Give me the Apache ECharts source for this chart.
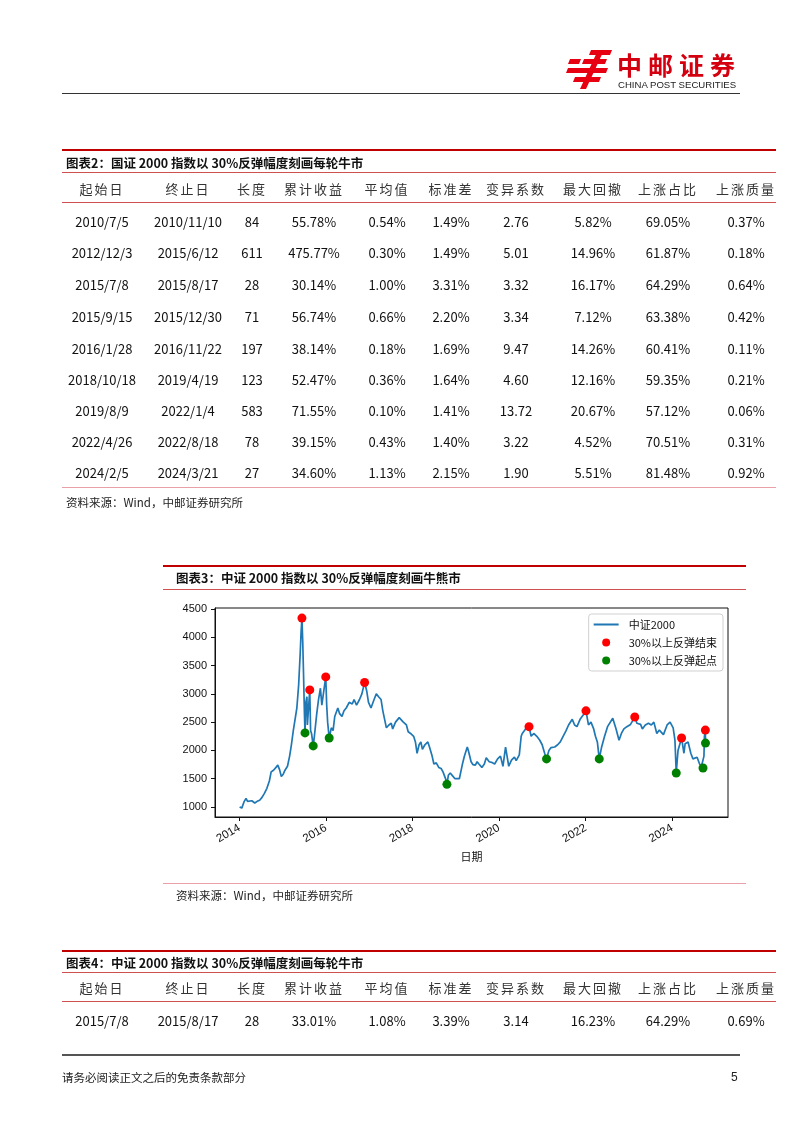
<!DOCTYPE html>
<html><head><meta charset="utf-8">
<script src="https://cdn.jsdelivr.net/npm/echarts@6/dist/echarts.min.js"></script>
<style>
html,body{margin:0;padding:0}
body{width:802px;height:1133px;position:relative;background:#fff;font-family:"Noto Sans CJK SC",sans-serif;overflow:hidden;color:#111}
#chart{position:absolute;left:0;top:0;width:802px;height:1133px}
.t{position:absolute;white-space:nowrap;line-height:1}
.c{position:absolute;white-space:nowrap;line-height:1;transform:translate(-50%,-50%);font-size:13px}
.ln{position:absolute}
</style></head><body>
<div id="chart"></div>
<div id="ov"></div>
<script>
// ---------- data ----------
const tableHeader = ['起始日','终止日','长度','累计收益','平均值','标准差','变异系数','最大回撤','上涨占比','上涨质量'];
const table2Start = ['2010/7/5','2012/12/3','2015/7/8','2015/9/15','2016/1/28','2018/10/18','2019/8/9','2022/4/26','2024/2/5'];
const table2End = ['2010/11/10','2015/6/12','2015/8/17','2015/12/30','2016/11/22','2019/4/19','2022/1/4','2022/8/18','2024/3/21'];
const table2Len = ['84','611','28','71','197','123','583','78','27'];
const table2Cum = ['55.78%','475.77%','30.14%','56.74%','38.14%','52.47%','71.55%','39.15%','34.60%'];
const table2Mean = ['0.54%','0.30%','1.00%','0.66%','0.18%','0.36%','0.10%','0.43%','1.13%'];
const table2Std = ['1.49%','1.49%','3.31%','2.20%','1.69%','1.64%','1.41%','1.40%','2.15%'];
const table2CV = ['2.76','5.01','3.32','3.34','9.47','4.60','13.72','3.22','1.90'];
const table2DD = ['5.82%','14.96%','16.17%','7.12%','14.26%','12.16%','20.67%','4.52%','5.51%'];
const table2Up = ['69.05%','61.87%','64.29%','63.38%','60.41%','59.35%','57.12%','70.51%','81.48%'];
const table2Q = ['0.37%','0.18%','0.64%','0.42%','0.11%','0.21%','0.06%','0.31%','0.92%'];
const table4Row = ['2015/7/8','2015/8/17','28','33.01%','1.08%','3.39%','3.14','16.23%','64.29%','0.69%'];

const xTickYears = [2014,2016,2018,2020,2022,2024];
const yTicks = [1000,1500,2000,2500,3000,3500,4000,4500];

const indexDates = [
'2014-01-02','2014-01-20','2014-02-10','2014-02-25','2014-03-10','2014-03-25','2014-04-15','2014-05-10','2014-05-30','2014-06-20',
'2014-07-10','2014-07-30','2014-08-20','2014-09-10','2014-09-25','2014-10-15','2014-11-05','2014-11-20','2014-12-05','2014-12-20',
'2015-01-05','2015-01-20','2015-02-10','2015-02-28','2015-03-15','2015-03-31','2015-04-15','2015-04-30','2015-05-15','2015-05-28',
'2015-06-05','2015-06-12','2015-06-19','2015-06-26','2015-07-03','2015-07-08','2015-07-15','2015-07-24','2015-07-28','2015-08-05',
'2015-08-17','2015-08-24','2015-09-01','2015-09-15','2015-09-25','2015-10-15','2015-10-30','2015-11-15','2015-11-27','2015-12-10',
'2015-12-30','2016-01-07','2016-01-15','2016-01-28','2016-02-15','2016-03-01','2016-03-15','2016-04-10','2016-04-25','2016-05-15',
'2016-06-01','2016-06-20','2016-07-15','2016-08-10','2016-08-25','2016-09-15','2016-10-10','2016-10-30','2016-11-22','2016-12-10',
'2016-12-25','2017-01-15','2017-02-10','2017-03-01','2017-03-20','2017-04-10','2017-04-25','2017-05-10','2017-05-25','2017-06-15',
'2017-07-05','2017-07-17','2017-08-10','2017-09-10','2017-09-25','2017-10-15','2017-11-10','2017-11-25','2017-12-15','2018-01-10',
'2018-01-25','2018-02-08','2018-02-25','2018-03-12','2018-03-25','2018-04-15','2018-05-10','2018-05-25','2018-06-15','2018-06-30',
'2018-07-20','2018-08-10','2018-08-30','2018-09-15','2018-09-28','2018-10-10','2018-10-18','2018-10-30','2018-11-15','2018-12-05',
'2018-12-25','2019-01-10','2019-01-31','2019-02-25','2019-03-15','2019-04-08','2019-04-19','2019-05-10','2019-05-25','2019-06-15',
'2019-06-30','2019-07-15','2019-08-09','2019-08-30','2019-09-15','2019-10-10','2019-10-30','2019-11-25','2019-12-20','2020-01-13',
'2020-02-03','2020-02-25','2020-03-23','2020-04-15','2020-05-10','2020-05-25','2020-06-20','2020-07-06','2020-07-15','2020-07-31',
'2020-08-20','2020-09-10','2020-09-28','2020-10-20','2020-11-15','2020-12-10','2020-12-30','2021-01-20','2021-02-05','2021-02-25',
'2021-03-15','2021-04-15','2021-05-10','2021-06-01','2021-06-25','2021-07-20','2021-08-10','2021-09-10','2021-09-30','2021-10-20',
'2021-11-15','2021-12-10','2022-01-04','2022-01-25','2022-02-15','2022-03-10','2022-03-25','2022-04-10','2022-04-26','2022-05-15',
'2022-06-10','2022-07-05','2022-08-18','2022-09-15','2022-10-10','2022-10-30','2022-11-20','2022-12-15','2023-01-15','2023-02-20',
'2023-03-10','2023-04-10','2023-04-25','2023-05-20','2023-06-15','2023-07-10','2023-07-31','2023-08-25','2023-09-15','2023-10-20',
'2023-11-20','2023-12-15','2024-01-10','2024-01-25','2024-02-05','2024-02-20','2024-03-21','2024-04-10','2024-04-20','2024-05-15',
'2024-06-07','2024-06-25','2024-07-10','2024-07-30','2024-08-20','2024-09-05','2024-09-18','2024-09-26','2024-09-30','2024-10-08',
'2024-10-09'];
const indexValues = [
1000,980,1100,1150,1100,1130,1110,1070,1100,1120,
1170,1240,1330,1460,1620,1650,1700,1740,1660,1540,
1580,1650,1720,1900,2100,2350,2550,2750,3150,3700,
4100,4340,3900,3300,2650,2310,2850,2950,2450,2700,
3070,2350,2300,2080,2250,2650,2900,3100,2800,3000,
3300,2800,2500,2220,2400,2350,2600,2750,2650,2600,
2700,2750,2850,2820,2900,2800,2900,3000,3200,3050,
2850,2750,2900,3000,2950,2900,2700,2550,2400,2450,
2480,2380,2500,2580,2560,2500,2450,2330,2300,2250,
2150,1950,2100,2150,2020,2100,2150,2050,1900,1760,
1780,1700,1680,1620,1600,1480,1400,1560,1600,1550,
1500,1470,1500,1750,1900,2060,1980,1800,1750,1740,
1800,1760,1700,1760,1870,1800,1790,1760,1850,1900,
1720,2060,1720,1830,1880,1820,1920,2250,2300,2330,
2400,2420,2250,2300,2250,2180,2100,1950,1850,2000,
2050,2060,2100,2150,2250,2350,2450,2550,2450,2420,
2550,2620,2700,2450,2500,2380,2250,2150,1850,2050,
2250,2420,2570,2380,2180,2300,2380,2420,2460,2590,
2480,2460,2380,2450,2480,2450,2500,2300,2360,2280,
2450,2500,2400,2180,1600,2000,2220,1950,2120,2150,
1950,1850,1830,1880,1760,1720,1690,1900,2250,2360,
2130];
const endDates = ['2015-06-12','2015-08-17','2015-12-30','2016-11-22','2020-09-10','2022-01-04','2023-02-20','2024-03-21','2024-10-08'];
const endValues = [4340,3070,3300,3200,2420,2700,2590,2220,2360];
const startDates = ['2015-07-08','2015-09-15','2016-01-28','2018-10-18','2021-02-05','2022-04-26','2024-02-05','2024-09-18','2024-10-09'];
const startValues = [2310,2080,2220,1400,1850,1850,1600,1690,2130];

// ---------- layout helpers ----------
const ov = document.getElementById('ov');
function txt(s, x, y, css, center){
  const d = document.createElement('div');
  d.className = center ? 'c' : 't';
  d.textContent = s;
  d.style.left = x + 'px'; d.style.top = y + 'px';
  if (css) d.style.cssText += css;
  ov.appendChild(d);
}
function hline(x1, x2, y, h, color){
  const d = document.createElement('div');
  d.className = 'ln';
  d.style.cssText = `left:${x1}px;top:${y}px;width:${x2-x1}px;height:${h}px;background:${color}`;
  ov.appendChild(d);
}
const colX = [102,188,252,314,387,451,516,593,668,746];
const numCss = 'font-family:"Noto Sans CJK SC",sans-serif;font-size:13px;color:#111;';
const hdCss = 'font-size:13px;color:#333;letter-spacing:2px;';
const titleCss = 'font-size:12.5px;font-weight:bold;color:#111;transform:translateY(-50%);';
const srcCss = 'font-size:11.5px;color:#222;transform:translateY(-50%);';

// header
ov.insertAdjacentHTML('beforeend', `<svg style="position:absolute;left:0;top:0" width="802" height="110">
<g fill="#e60012">
<polygon points="591,50 612,50 610,55 589,55"/>
<polygon points="584,59 607,59 605,64 582,64"/>
<polygon points="570,59 581,59 579,64 568,64"/>
<polygon points="568,68 608,68 606,73 566,73"/>
<polygon points="575,77 601,77 599,82 573,82"/>
<polygon points="598,50 604,50 586,89 580,89"/>
</g></svg>`);
txt('中邮证券', 617, 64, 'font-size:25px;font-weight:bold;color:#d40010;letter-spacing:6px;transform:translateY(-50%);');
txt('CHINA POST SECURITIES', 618, 85, 'font-family:"Liberation Sans",Arial,sans-serif;font-size:9.6px;color:#222;transform:translateY(-50%);');
hline(62, 740, 93, 1, '#333');

// table 2
hline(62, 776, 149, 2, '#c00000');
txt('图表2：国证 2000 指数以 30%反弹幅度刻画每轮牛市', 66, 163, titleCss);
hline(62, 776, 172, 1, '#d05050');
tableHeader.forEach((h,i)=>txt(h, colX[i], 188, hdCss, true));
hline(62, 776, 202, 1, '#d05050');
const rowY2 = [221,252,284,316,348,379,410,441,472];
const cols2 = [table2Start,table2End,table2Len,table2Cum,table2Mean,table2Std,table2CV,table2DD,table2Up,table2Q];
rowY2.forEach((y,r)=>cols2.forEach((col,i)=>txt(col[r], colX[i], y, numCss, true)));
hline(62, 776, 487, 1, '#eaa0a8');
txt('资料来源：Wind，中邮证券研究所', 66, 503, srcCss);

// chart 3 frame
hline(163, 746, 565, 2, '#c00000');
txt('图表3：中证 2000 指数以 30%反弹幅度刻画牛熊市', 176, 578, titleCss);
hline(163, 746, 589, 1, '#d05050');
hline(163, 746, 883, 1, '#eaa0a8');
txt('资料来源：Wind，中邮证券研究所', 176, 896, srcCss);

// table 4
hline(62, 776, 950, 2, '#c00000');
txt('图表4：中证 2000 指数以 30%反弹幅度刻画每轮牛市', 66, 963, titleCss);
hline(62, 776, 972, 1, '#d05050');
tableHeader.forEach((h,i)=>txt(h, colX[i], 987, hdCss, true));
hline(62, 776, 1001, 1, '#d05050');
table4Row.forEach((v,i)=>txt(v, colX[i], 1020, numCss, true));

// footer
hline(62, 740, 1054, 2, '#555');
txt('请务必阅读正文之后的免责条款部分', 62, 1078, 'font-size:11.5px;color:#222;transform:translateY(-50%);');
txt('5', 731, 1077, 'font-family:"Liberation Sans",Arial,sans-serif;font-size:12px;color:#222;transform:translateY(-50%);');

// ---------- chart ----------
const chart = echarts.init(document.getElementById('chart'), null, {renderer:'canvas'});
const toTime = s => echarts.time.parse(s).getTime();
const xTicks = xTickYears.map(y => new Date(y,0,1).getTime());
const axisCol = '#111';
const lineIcon = 'path://M0,0L0.01,0L0.01,0.01Z M0,3.1L25,3.1L25,4.9L0,4.9Z M0,8L0.01,8L0.01,7.99Z';
chart.setOption({
  animation:false,
  backgroundColor:'#fff',
  grid:{left:215, top:608, width:513, height:209, show:true, borderColor:axisCol, borderWidth:1, backgroundColor:'transparent'},
  xAxis:{
    type:'value', min:new Date(2013,5,8).getTime(), max:new Date(2025,3,17).getTime(),
    axisLine:{show:true, onZero:false, lineStyle:{color:axisCol}},
    axisTick:{show:true, length:4, lineStyle:{color:axisCol}, customValues:xTicks},
    axisLabel:{customValues:xTicks, rotate:30, margin:10, color:axisCol, fontSize:11.5, fontFamily:'"Liberation Sans",Arial,sans-serif',
      formatter:v=>String(new Date(v).getFullYear())},
    splitLine:{show:false},
    name:'日期', nameLocation:'middle', nameGap:34,
    nameTextStyle:{fontSize:11, color:axisCol, fontFamily:'"Noto Sans CJK SC",sans-serif'}
  },
  yAxis:{
    type:'value', min:823, max:4518,
    axisLine:{show:true, onZero:false, lineStyle:{color:axisCol}},
    axisTick:{show:true, length:4, lineStyle:{color:axisCol}, customValues:yTicks},
    axisLabel:{customValues:yTicks, margin:8, color:axisCol, fontSize:11, fontFamily:'"Liberation Sans",Arial,sans-serif',
      formatter:v=>String(v)},
    splitLine:{show:false}
  },
  legend:{
    orient:'vertical', right:79, top:614, padding:[5,6,5,5], itemGap:7, itemWidth:25, itemHeight:8,
    backgroundColor:'rgba(255,255,255,0.85)', borderColor:'#d0d0d0', borderWidth:1, borderRadius:3,
    textStyle:{fontSize:11, color:'#111', fontFamily:'"Noto Sans CJK SC",sans-serif', padding:[0,0,0,5]},
    data:[{name:'中证2000', icon:lineIcon},{name:'30%以上反弹结束', icon:'circle'},{name:'30%以上反弹起点', icon:'circle'}]
  },
  series:[
    {name:'中证2000', type:'line', symbol:'none', showSymbol:false, z:2,
     lineStyle:{color:'#1f77b4', width:1.7}, itemStyle:{color:'#1f77b4'},
     data:indexDates.map((d,i)=>[toTime(d), indexValues[i]])},
    {name:'30%以上反弹结束', type:'scatter', symbol:'circle', symbolSize:9, z:3,
     itemStyle:{color:'#ff0000', opacity:1}, data:endDates.map((d,i)=>[toTime(d), endValues[i]])},
    {name:'30%以上反弹起点', type:'scatter', symbol:'circle', symbolSize:9, z:3,
     itemStyle:{color:'#008000', opacity:1}, data:startDates.map((d,i)=>[toTime(d), startValues[i]])}
  ]
});
</script>
</body></html>
